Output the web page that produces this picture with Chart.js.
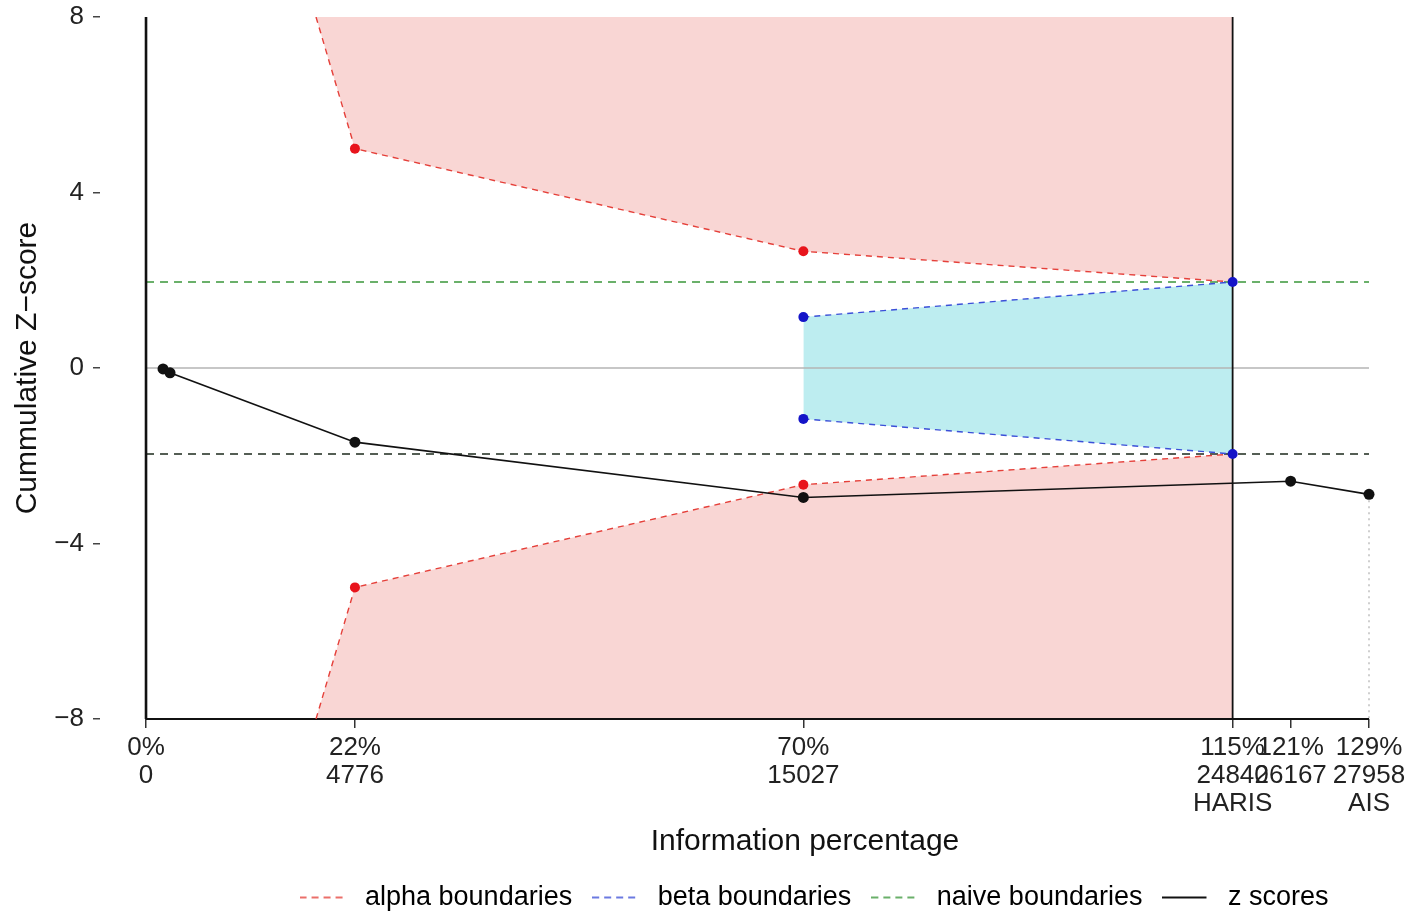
<!DOCTYPE html>
<html>
<head>
<meta charset="utf-8">
<script src="https://cdn.jsdelivr.net/npm/chart.js@4.4.1/dist/chart.umd.min.js"></script>
<style>
  html, body { margin: 0; padding: 0; background: #fff; overflow: hidden; width: 1413px; height: 912px; }
  #wrap { position: absolute; left: 0; top: 0; width: 1628px; height: 921px; }
</style>
</head>
<body>
<div id="wrap"><canvas id="tsa"></canvas></div>
<script>
// ---- data -------------------------------------------------------------
const xTickValues  = [0, 4776, 15027, 24840, 26167, 27958];
const xTickPercent = ['0%', '22%', '70%', '115%', '121%', '129%'];
const xTickNote    = ['', '', '', 'HARIS', '', 'AIS'];
const yTickValues  = [-8, -4, 0, 4, 8];

// cumulative z-curve (sample size, z)
const zSamples = [389, 549, 4776, 15027, 26167, 27958];
const zScores  = [-0.02, -0.11, -1.69, -2.95, -2.58, -2.88];

// alpha-spending (O'Brien-Fleming) boundaries
const alphaSamples = [3886, 4776, 15027, 24840];
const alphaUpper   = [8.0, 5.0, 2.66, 1.96];
const alphaLower   = [-8.0, -5.0, -2.66, -1.96];

// beta-spending (futility) boundaries
const betaSamples = [15027, 24840];
const betaUpper   = [1.16, 1.96];
const betaLower   = [-1.16, -1.96];

// conventional boundaries and sample sizes
const naiveBound   = 1.96;
const requiredInfo = 24840;   // HARIS
const totalInfo    = 27958;   // AIS

// ---- helpers ----------------------------------------------------------
const FONT = "'Liberation Sans', Arial, Helvetica, sans-serif";
const pts = (xs, ys) => xs.map((x, i) => ({ x: x, y: ys[i] }));
const xTickLines = xTickValues.map((v, i) =>
  [xTickPercent[i], String(v)].concat(xTickNote[i] ? [xTickNote[i]] : []));

const X_MIN = -1052, X_MAX = 31181;   // axis range (panel extends beyond data)
const Y_MIN = -8, Y_MAX = 8;

const RED = '#e5403a', RED_PT = '#e8141c';
const BLUE = '#3b4fd8', BLUE_PT = '#1414c8';
const GREEN = '#3a973a';
const PINK = '#f9d6d4', CYAN = '#bdedf0';

// legend key: short line sample followed by a small gap
function legendKey(color, dash, width) {
  const c = document.createElement('canvas');
  c.width = 52; c.height = 8;
  const g = c.getContext('2d');
  g.strokeStyle = color; g.lineWidth = width; g.setLineDash(dash);
  g.beginPath(); g.moveTo(0, 4); g.lineTo(44, 4); g.stroke();
  return c;
}

const legendEntries = [
  { text: 'alpha boundaries', key: legendKey(RED,   [7, 5], 1.6) },
  { text: 'beta boundaries',  key: legendKey(BLUE,  [7, 5], 1.6) },
  { text: 'naive boundaries', key: legendKey(GREEN, [7, 5], 1.6) },
  { text: 'z scores',         key: legendKey('#111', [],    1.8) }
];

const lineDs = (label, data, extra) => Object.assign({
  label: label, data: data, showLine: true, pointRadius: 0,
  borderWidth: 1.5, fill: false, tension: 0
}, extra);

const datasets = [
  // z scores (drawn on top)
  lineDs('z scores', pts(zSamples, zScores), {
    borderColor: '#111', borderWidth: 1.6, pointRadius: 5.5,
    pointBackgroundColor: '#111', pointBorderWidth: 0
  }),
  // beta boundaries with shaded futility region
  lineDs('beta upper', pts(betaSamples, betaUpper), {
    borderColor: BLUE, borderDash: [6, 5], borderWidth: 1.4,
    pointRadius: 5, pointBackgroundColor: BLUE_PT, pointBorderWidth: 0,
    fill: { target: '+1' }, backgroundColor: CYAN
  }),
  lineDs('beta lower', pts(betaSamples, betaLower), {
    borderColor: BLUE, borderDash: [6, 5], borderWidth: 1.4,
    pointRadius: 5, pointBackgroundColor: BLUE_PT, pointBorderWidth: 0
  }),
  // alpha boundaries with shaded rejection regions
  lineDs('alpha upper', pts(alphaSamples, alphaUpper), {
    borderColor: RED, borderDash: [6, 5], borderWidth: 1.4,
    pointRadius: [0, 5, 5, 0], pointBackgroundColor: RED_PT, pointBorderWidth: 0,
    fill: 'end', backgroundColor: PINK
  }),
  lineDs('alpha lower', pts(alphaSamples, alphaLower), {
    borderColor: RED, borderDash: [6, 5], borderWidth: 1.4,
    pointRadius: [0, 5, 5, 0], pointBackgroundColor: RED_PT, pointBorderWidth: 0,
    fill: 'start', backgroundColor: PINK
  }),
  // axis lines through the data range
  lineDs('y axis', pts([0, 0], [Y_MIN, Y_MAX]), { borderColor: '#111', borderWidth: 2.6, clip: false }),
  lineDs('x axis', pts([0, totalInfo], [Y_MIN, Y_MIN]), { borderColor: '#111', borderWidth: 2.2, clip: false }),
  // required information size
  lineDs('required', pts([requiredInfo, requiredInfo], [Y_MIN, Y_MAX]), { borderColor: '#111', borderWidth: 1.8 }),
  // total accrued information (dotted)
  lineDs('accrued', pts([totalInfo, totalInfo], [zScores[zScores.length - 1], Y_MIN]), {
    borderColor: '#cfcfcf', borderDash: [2, 4], borderWidth: 2
  }),
  // zero line
  lineDs('zero', pts([0, totalInfo], [0, 0]), { borderColor: '#b5b5b5', borderWidth: 1.5 }),
  // naive boundaries
  lineDs('naive upper', pts([0, totalInfo], [naiveBound, naiveBound]), {
    borderColor: GREEN, borderDash: [8, 6], borderWidth: 1.5
  }),
  lineDs('naive lower', pts([0, totalInfo], [-naiveBound, -naiveBound]), {
    borderColor: '#1d2a1d', borderDash: [8, 6], borderWidth: 1.5
  })
];

new Chart(document.getElementById('tsa'), {
  type: 'scatter',
  data: { datasets: datasets },
  options: {
    responsive: true,
    maintainAspectRatio: false,
    animation: false,
    events: [],
    layout: { padding: { top: 17, right: 0, left: 0, bottom: 0 } },
    plugins: {
      filler: { drawTime: 'beforeDatasetsDraw' },
      tooltip: { enabled: false },
      legend: {
        position: 'bottom',
        onClick: null,
        labels: {
          usePointStyle: true,
          pointStyleWidth: 52,
          padding: 20,
          color: '#111',
          font: { family: FONT, size: 27 },
          generateLabels: () => legendEntries.map(e => ({
            text: e.text, pointStyle: e.key, strokeStyle: 'rgba(0,0,0,0)',
            fillStyle: 'rgba(0,0,0,0)', lineWidth: 0, hidden: false
          }))
        }
      }
    },
    scales: {
      x: {
        type: 'linear', min: X_MIN, max: X_MAX,
        afterBuildTicks: s => { s.ticks = xTickValues.map(v => ({ value: v })); },
        afterFit: s => { s.height = 145; },
        grid: { display: true, drawOnChartArea: false, drawTicks: true, tickLength: 9, color: '#333', lineWidth: 1.5 },
        border: { display: false },
        ticks: {
          autoSkip: false, maxRotation: 0, minRotation: 0, padding: 6,
          color: '#222', font: { family: FONT, size: 26, lineHeight: 1.08 },
          callback: (v, i) => xTickLines[i]
        },
        title: {
          display: true, text: 'Information percentage', color: '#111',
          font: { family: FONT, size: 30, lineHeight: 1 }, padding: { top: 4, bottom: 7 }
        }
      },
      y: {
        min: Y_MIN, max: Y_MAX,
        afterBuildTicks: s => { s.ticks = yTickValues.map(v => ({ value: v })); },
        afterFit: s => { s.width = 100; s.paddingTop = 0; s.paddingBottom = 0; },
        grid: { display: true, drawOnChartArea: false, drawTicks: true, tickLength: 7, color: '#444', lineWidth: 1.5 },
        border: { display: false },
        ticks: {
          padding: 9, color: '#222', font: { family: FONT, size: 26 },
          callback: v => (v < 0 ? '\u2212' + Math.abs(v) : String(v))
        },
        title: {
          display: true, text: 'Cummulative Z\u2212score', color: '#111',
          font: { family: FONT, size: 30, lineHeight: 1.2 }, padding: { top: 10, bottom: 0 }
        }
      },
      // empty right-hand margin of the panel
      yMargin: {
        position: 'right', min: Y_MIN, max: Y_MAX,
        afterFit: s => { s.width = 118; s.paddingTop = 0; s.paddingBottom = 0; },
        grid: { display: false, drawTicks: false },
        border: { display: false },
        ticks: { display: false }
      }
    }
  }
});
</script>
</body>
</html>
